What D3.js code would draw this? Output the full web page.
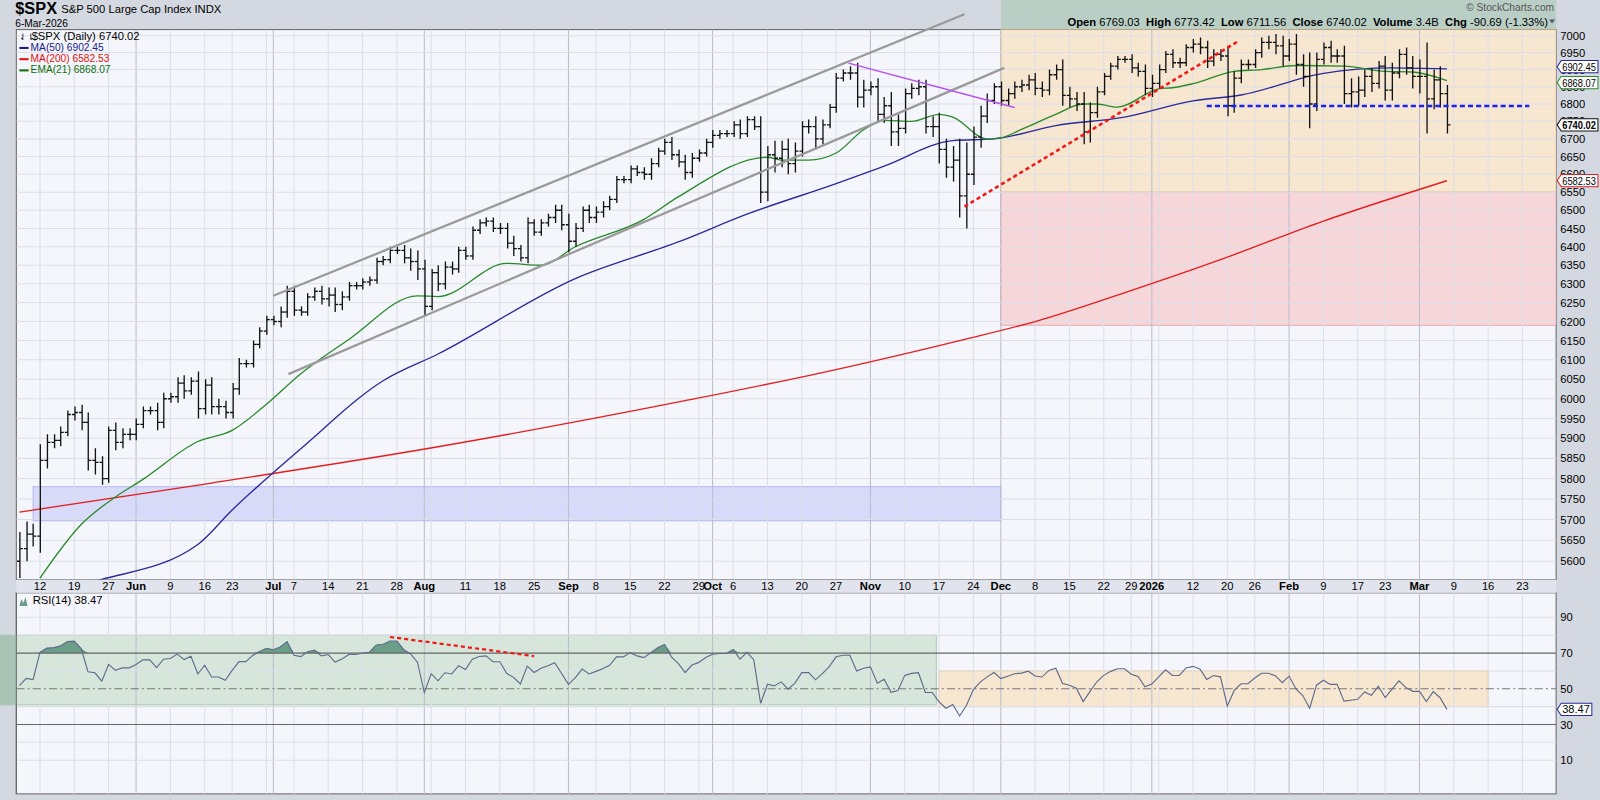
<!DOCTYPE html>
<html>
<head>
<meta charset="utf-8">
<script src="https://cdn.jsdelivr.net/npm/d3@7"></script>
<style>
  body { margin: 0; background: #d4d8e1; }
  svg { display: block; font-family: "Liberation Sans", Arial, sans-serif; }
</style>
</head>
<body>
<svg id="chart" width="1600" height="800"></svg>
<script>
// closing prices, one array per month
var mayC = [5630,5665,5660,5845,5890,5895,5915,5960,5965,5940,5845,5840,5800,5920,5890,5910,5910];
var junC = [5935,5970,5970,5940,6000,6005,6040,6020,6045,5975,6035,5980,5980,5965,6025,6090,6090,6140,6175,6205];
var julC = [6200,6225,6280,6230,6225,6265,6280,6260,6270,6245,6265,6295,6295,6305,6310,6360,6365,6390,6390,6370,6360,6340];
var augC = [6240,6330,6300,6345,6340,6390,6375,6445,6465,6470,6450,6450,6410,6395,6370,6465,6440,6465,6480,6500,6460];
var sepC = [6415,6450,6500,6480,6495,6510,6530,6585,6585,6615,6605,6600,6630,6665,6690,6655,6635,6605,6645,6660,6690];
var octC = [6710,6715,6715,6740,6715,6755,6735,6550,6655,6645,6670,6630,6665,6735,6735,6700,6740,6790,6875,6890,6890,6820,6840];
var novC = [6850,6770,6795,6720,6730,6830,6845,6850,6735,6735,6670,6620,6640,6540,6600,6705,6765,6810,6850];
var decC = [6810,6830,6850,6855,6870,6845,6840,6885,6900,6825,6815,6800,6720,6775,6835,6880,6910,6930,6930,6905,6895,6845];
var janC = [6860,6900,6945,6920,6920,6965,6975,6965,6925,6945,6940,6795,6875,6915,6915,6950,6980,6980,6970,6940];
var febC = [6975,6915,6880,6800,6930,6965,6940,6940,6830,6835,6840,6880,6860,6910,6840,6890,6945,6905,6880];
var marC = [6880,6815,6870,6830,6740];

// extra high/low beyond the open-close range, per day
var mayW = [40,30,25,40,20,15,15,10,15,20,25,30,15,10,20,15,15];
var junW = [15,10,10,20,15,10,15,20,10,25,15,20,20,15,15,15,10,10,10,10];
var julW = [10,15,15,15,10,10,10,15,20,20,15,10,10,10,10,10,10,10,10,15,25,30];
var augW = [25,10,20,15,15,10,10,10,10,10,10,15,15,20,10,15,10,10,10,15,15];
var sepW = [30,15,10,15,15,15,10,10,10,10,10,15,15,10,10,15,15,20,15,10,10];
var octW = [15,10,10,10,15,10,10,30,25,40,25,30,25,15,20,30,15,10,15,10,20,30,30];
var novW = [15,25,25,40,40,15,15,20,20,30,40,30,40,60,90,30,30,20,10];
var decW = [15,15,15,15,15,20,20,15,15,30,25,20,35,30,15,10,10,10,10,15,15,20];
var janW = [25,15,10,15,15,10,15,20,20,15,15,30,20,15,15,10,15,20,25,30];
var febW = [15,30,30,70,20,15,20,20,30,40,40,20,25,15,30,30,15,20,35];
var marW = [50,100,30,40,25];

var holidays = ["2025-05-26","2025-06-19","2025-07-04","2025-09-01","2025-11-27","2025-12-25","2026-01-01","2026-01-19","2026-02-16"];

// moving averages read at selected days (index into trading days)
var ma50Idx = [0,12,26,31,41,53,61,81,96,106,119,126,136,142,151,161,171,178,190,200,208];
var ma50Val = [5520,5557,5640,5723,5874,6046,6115,6314,6413,6489,6574,6623,6695,6700,6738,6762,6809,6826,6889,6905,6902];
var ma200Idx = [0,28,61,97,117,137,148,160,175,190,208];
var ma200Val = [5718,5789,5879,5995,6067,6150,6200,6270,6365,6470,6582];
var emaIdx = [3,9,14,18,26,31,36,41,48,58,61,71,76,81,91,96,109,111,115,119,123,126,130,134,136,141,143,146,151,155,157,160,166,168,171,177,181,186,193,199,203,208];
var emaVal = [5560,5688,5755,5798,5892,5920,5986,6064,6153,6268,6266,6355,6350,6400,6475,6537,6648,6640,6640,6660,6726,6753,6750,6770,6762,6700,6703,6727,6770,6800,6800,6791,6844,6847,6859,6895,6900,6912,6910,6895,6893,6868];

var priceTicks = d3.range(5600, 7001, 50);
var rsiTicks = [10,30,50,70,90];
var monthNames = ["Jan","Feb","Mar","Apr","May","Jun","Jul","Aug","Sep","Oct","Nov","Dec"];

var closes = [].concat(mayC, junC, julC, augC, sepC, octC, novC, decC, janC, febC, marC);
var wicks = [].concat(mayW, junW, julW, augW, sepW, octW, novW, decW, janW, febW, marW);
var N = closes.length;

// trading dates, plus empty days up to late March
var fmt = d3.timeFormat("%Y-%m-%d");
var dates = [];
var d = new Date(2025, 4, 7);
while (dates.length < N + 15) {
  var wd = d.getDay();
  if (wd != 0 && wd != 6 && (holidays.indexOf(fmt(d)) < 0 || dates.length >= N)) dates.push(new Date(d));
  d = d3.timeDay.offset(d, 1);
}

var bars = closes.map(function (c, i) {
  var o = i == 0 ? 5600 : closes[i - 1];
  return { i: i, o: o, c: c, h: Math.max(o, c) + wicks[i], l: Math.min(o, c) - wicks[i] };
});

// RSI(14), Wilder smoothing
var rsi = [];
var ag = 15, al = 14;
closes.forEach(function (c, i) {
  if (i > 0) {
    var ch = c - closes[i - 1];
    ag = (ag * 13 + Math.max(ch, 0)) / 14;
    al = (al * 13 + Math.max(-ch, 0)) / 14;
  }
  rsi.push(100 - 100 / (1 + ag / al));
});

// layout was measured on a 1568 px wide view of the reference
var root = d3.select("#chart").append("g").attr("transform", "scale(" + (1600 / 1568) + ")");
var svg = root;
var L = 16, R = 1525, PT = 29, PB = 568, RT = 581, RB = 778;

var x = d3.scaleLinear().domain([0, N - 1]).range([19, 1418]);
var y = d3.scaleLog().domain([5600, 7000]).range([550, 35]);
var yr = d3.scaleLinear().domain([30, 70]).range([710, 640]);

var dec1 = 143;

// header
svg.append("rect").attr("x", x(dec1)).attr("y", 0).attr("width", R - x(dec1)).attr("height", PT).attr("fill", "#b9cfc5");
svg.append("text").attr("x", 15).attr("y", 14).attr("font-size", 16).attr("font-weight", "bold").text("$SPX");
svg.append("text").attr("x", 60).attr("y", 13).attr("font-size", 11).text("S&P 500 Large Cap Index  INDX");
svg.append("text").attr("x", 15).attr("y", 26).attr("font-size", 10).text("6-Mar-2026");
svg.append("text").attr("x", R - 2).attr("y", 11).attr("font-size", 10).attr("fill", "#555").attr("text-anchor", "end").text("© StockCharts.com");
var hdr = svg.append("text").attr("x", R - 8).attr("y", 25).attr("font-size", 11).attr("text-anchor", "end");
[["Open ", "6769.03"], ["  High ", "6773.42"], ["  Low ", "6711.56"], ["  Close ", "6740.02"], ["  Volume ", "3.4B"], ["  Chg ", "-90.69 (-1.33%)"]].forEach(function (p) {
  hdr.append("tspan").attr("font-weight", "bold").attr("xml:space", "preserve").text(p[0]);
  hdr.append("tspan").text(p[1]);
});
svg.append("path").attr("d", "M" + (R - 7) + ",19 l6,0 l-3,4 z").attr("fill", "#557");

// panels
svg.append("rect").attr("x", L).attr("y", PT).attr("width", R - L).attr("height", PB - PT).attr("fill", "#f4f6fb").attr("stroke", "#666");
svg.append("rect").attr("x", L).attr("y", RT).attr("width", R - L).attr("height", RB - RT).attr("fill", "#f4f6fb").attr("stroke", "#666");
svg.append("rect").attr("x", L).attr("y", PB).attr("width", R - L).attr("height", RT - PB).attr("fill", "#e1e4ec");

var defs = d3.select("#chart").append("defs");
defs.append("clipPath").attr("id", "cp").append("rect").attr("x", L).attr("y", PT).attr("width", R - L).attr("height", PB - PT);
defs.append("clipPath").attr("id", "cr").append("rect").attr("x", L).attr("y", RT).attr("width", R - L).attr("height", RB - RT);

// RSI overbought zone reaches out to the left edge, drawn under the panel content
var rsiGreenEnd = 133.6, rsiOrange = [134, 214];
svg.append("rect").attr("x", 0).attr("y", yr(80)).attr("width", x(rsiGreenEnd)).attr("height", yr(41) - yr(80)).attr("fill", "#d6e6da").attr("stroke", "#a9c9b1");
svg.append("rect").attr("x", 0).attr("y", yr(80)).attr("width", L).attr("height", yr(41) - yr(80)).attr("fill", "#a9c3b5");

var gp = svg.append("g").attr("clip-path", "url(#cp)");
var gr = svg.append("g").attr("clip-path", "url(#cr)");

// shaded zones
gp.append("rect").attr("x", x(dec1)).attr("y", PT).attr("width", R - x(dec1)).attr("height", y(6550) - PT).attr("fill", "#f7e6d0").attr("stroke", "#f0c890");
gp.append("rect").attr("x", x(dec1)).attr("y", y(6550)).attr("width", R - x(dec1)).attr("height", y(6190) - y(6550)).attr("fill", "#f7d6da").attr("stroke", "#eaa9b0");
gp.append("rect").attr("x", x(2)).attr("y", y(5780)).attr("width", x(dec1) - x(2)).attr("height", y(5697) - y(5780)).attr("fill", "#d8dafa").attr("stroke", "#b4b8f0");
gr.append("rect").attr("x", x(rsiOrange[0])).attr("y", yr(60)).attr("width", x(rsiOrange[1]) - x(rsiOrange[0])).attr("height", yr(40) - yr(60)).attr("fill", "#f7e6d0").attr("stroke", "#f0c890");

// grid
var weekIdx = [], monthIdx = [];
dates.forEach(function (dt, i) {
  if (i == 0) return;
  var prev = dates[i - 1];
  if (dt.getMonth() != prev.getMonth()) monthIdx.push(i);
  else if ((dt - prev) > 2.5 * 864e5) weekIdx.push(i);
});
var allTicks = weekIdx.concat(monthIdx);
[gp, gr].forEach(function (g, k) {
  var top = k ? RT : PT, bot = k ? RB : PB;
  g.selectAll(".wg").data(allTicks).enter().append("line")
    .attr("x1", function (i) { return x(i); }).attr("x2", function (i) { return x(i); })
    .attr("y1", top).attr("y2", bot)
    .attr("stroke", function (i) { return monthIdx.indexOf(i) >= 0 ? "#b9bdc9" : "#dcdfe7"; });
});
gp.selectAll(".hg").data(priceTicks).enter().append("line")
  .attr("x1", L).attr("x2", R).attr("y1", function (p) { return y(p); }).attr("y2", function (p) { return y(p); })
  .attr("stroke", "#dcdfe7");
gr.selectAll(".rg").data([10,20,40,60,80,90]).enter().append("line")
  .attr("x1", L).attr("x2", R).attr("y1", function (p) { return yr(p); }).attr("y2", function (p) { return yr(p); })
  .attr("stroke", "#dcdfe7");

// x axis labels (week labels crowding a month label are left out)
var labelIdx = monthIdx.concat(weekIdx.filter(function (i) {
  return !monthIdx.some(function (m) { return (i > m && i - m <= 2) || (m - i == 1); });
}));
svg.selectAll(".xl").data(labelIdx).enter().append("text")
  .attr("x", function (i) { return x(i); }).attr("y", 578).attr("text-anchor", "middle")
  .attr("font-size", 11)
  .attr("font-weight", function (i) { return monthIdx.indexOf(i) >= 0 ? "bold" : "normal"; })
  .text(function (i) {
    var dt = dates[i];
    if (monthIdx.indexOf(i) >= 0) return dt.getMonth() == 0 ? dt.getFullYear() : monthNames[dt.getMonth()];
    return dt.getDate();
  });

// price axis
svg.selectAll(".yl").data(priceTicks).enter().append("text")
  .attr("x", R + 4).attr("y", function (p) { return y(p) + 4; }).attr("font-size", 11).text(function (p) { return p; });

// moving averages
function avgLine(idx, val, color) {
  var pts = idx.map(function (i, k) { return [x(i), y(val[k])]; });
  gp.append("path").attr("d", d3.line().curve(d3.curveMonotoneX)(pts)).attr("fill", "none").attr("stroke", color).attr("stroke-width", 1.3);
}
avgLine(ma200Idx, ma200Val, "#e41e1e");
avgLine(ma50Idx, ma50Val, "#2a2a9a");
avgLine(emaIdx, emaVal, "#2a8a2a");

// OHLC bars
var bg = gp.append("g").attr("stroke", "#111").attr("stroke-width", 1.3);
bars.forEach(function (b) {
  var cx = Math.round(x(b.i)) + 0.5;
  bg.append("line").attr("x1", cx).attr("x2", cx).attr("y1", y(b.h)).attr("y2", y(b.l));
  bg.append("line").attr("x1", cx - 3).attr("x2", cx).attr("y1", y(b.o)).attr("y2", y(b.o));
  bg.append("line").attr("x1", cx).attr("x2", cx + 3).attr("y1", y(b.c)).attr("y2", y(b.c));
});

// trend lines (index, value)
function tl(g, ys, a, b, color, w, dash) {
  g.append("line").attr("x1", x(a[0])).attr("y1", ys(a[1])).attr("x2", x(b[0])).attr("y2", ys(b[1]))
    .attr("stroke", color).attr("stroke-width", w).attr("stroke-dasharray", dash || null);
}
var gt = svg.append("g");
tl(gt, y, [37, 6268], [137.7, 7064], "#9a9a9a", 2.2);
tl(gp, y, [39.2, 6063], [143.5, 6905], "#9a9a9a", 2.2);
tl(gp, y, [120.8, 6919], [145, 6790], "#b94ef0", 1.5);
tl(gp, y, [137.7, 6510], [177.7, 6985], "#f21818", 2.5, "4,3");
tl(gp, y, [173, 6794], [220, 6794], "#1a22f0", 2.5, "5,3");

// legend
var lg = svg.append("g").attr("font-size", 10);
lg.append("text").attr("x", 31).attr("y", 39).attr("font-size", 11).text("$SPX (Daily) 6740.02");
lg.append("text").attr("x", 19).attr("y", 39).attr("font-size", 9).text("⇃⇂");
[["MA(50) 6902.45", "#1a1a8a"], ["MA(200) 6582.53", "#e01010"], ["EMA(21) 6868.07", "#107010"]].forEach(function (t, k) {
  var yy = 50 + k * 11;
  lg.append("rect").attr("x", 19).attr("y", yy - 4).attr("width", 9).attr("height", 2).attr("fill", t[1]);
  lg.append("text").attr("x", 30).attr("y", yy).attr("fill", t[1]).text(t[0]);
});

// value tags on the price axis
function tag(v, ypos, color, bold, w) {
  var g = svg.append("g");
  g.append("path").attr("d", "M" + (R + 1) + "," + ypos + " l4,-6 h" + w + " v12 h-" + w + " z").attr("fill", "#fff").attr("stroke", color);
  g.append("text").attr("x", R + 6).attr("y", ypos + 4).attr("font-size", 10).attr("font-weight", bold ? "bold" : "normal")
    .attr("textLength", w - 3).attr("lengthAdjust", "spacingAndGlyphs").text(v);
}
tag("6902.45", y(6902.45) - 2, "#2a2a9a", false, 36);
tag("6868.07", y(6868.07) + 2, "#2a8a2a", false, 36);
tag("6740.02", y(6740.02), "#111", true, 36);
tag("6582.53", y(6582.53), "#e41e1e", false, 36);

// RSI panel
svg.append("line").attr("x1", L).attr("x2", L).attr("y1", RT).attr("y2", RB).attr("stroke", "#666");
gr.append("path").datum(rsi).attr("fill", "#6a9e88")
  .attr("d", d3.area().x(function (v, i) { return x(i); }).y0(yr(70)).y1(function (v) { return yr(Math.max(v, 70)); }));
gr.append("path").datum(rsi).attr("fill", "#6a9e88")
  .attr("d", d3.area().x(function (v, i) { return x(i); }).y0(yr(30)).y1(function (v) { return yr(Math.min(v, 30)); }));
[30, 70].forEach(function (v) {
  gr.append("line").attr("x1", L).attr("x2", R).attr("y1", yr(v)).attr("y2", yr(v)).attr("stroke", "#666").attr("stroke-width", 1.2);
});
gr.append("line").attr("x1", L).attr("x2", R).attr("y1", yr(50)).attr("y2", yr(50)).attr("stroke", "#777").attr("stroke-dasharray", "8,3,2,3");
gr.append("path").datum(rsi).attr("fill", "none").attr("stroke", "#5d6a8a").attr("stroke-width", 1.1)
  .attr("d", d3.line().x(function (v, i) { return x(i); }).y(function (v) { return yr(v); }));
tl(gr, yr, [54, 79], [75, 68.3], "#f21818", 2.2, "4,3");
svg.selectAll(".rl").data(rsiTicks).enter().append("text")
  .attr("x", R + 4).attr("y", function (v) { return yr(v) + 4; }).attr("font-size", 11).text(function (v) { return v; });
svg.append("text").attr("x", 32).attr("y", 592).attr("font-size", 11).text("RSI(14) " + rsi[N - 1].toFixed(2));
svg.append("path").attr("d", "M19,594 l2,-7 l2,4 l2,-6 l2,9 z").attr("fill", "#6a9e88");
tag(rsi[N - 1].toFixed(2), yr(rsi[N - 1]), "#2a2a9a", false, 30);
</script>
</body>
</html>
